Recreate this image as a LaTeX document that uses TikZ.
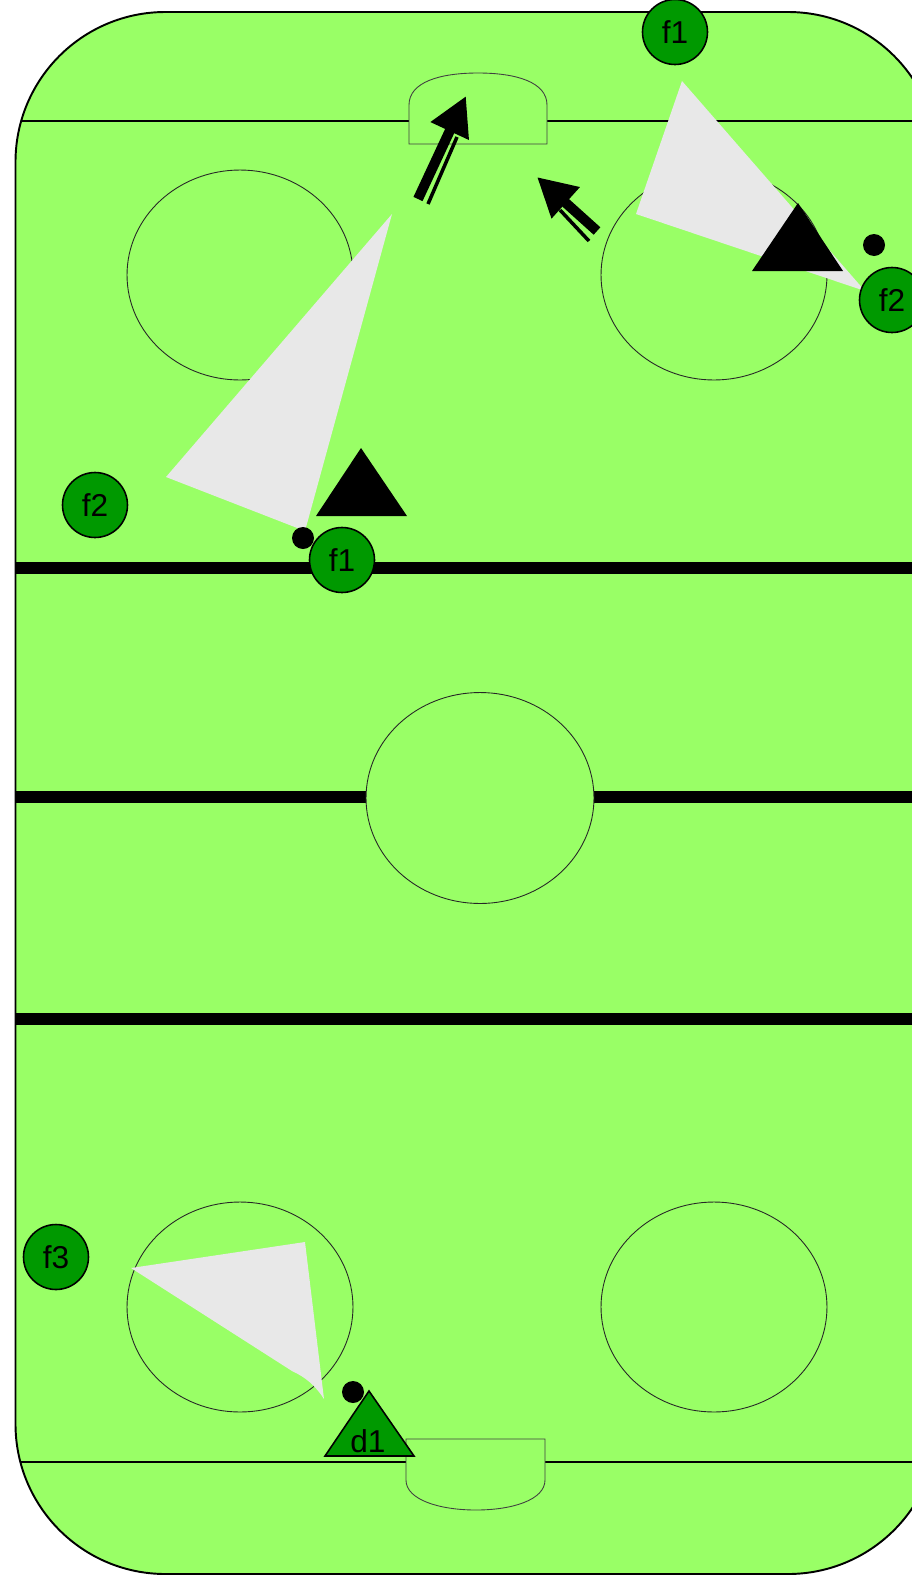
\documentclass[tikz,border=0pt]{standalone}
\usepackage{fontspec}
\setmainfont{Liberation Sans}
\usetikzlibrary{arrows.meta}

\definecolor{ice}{RGB}{153,255,102}
\definecolor{team}{RGB}{0,153,0}
\definecolor{lane}{RGB}{232,232,232}

\begin{document}
\begin{tikzpicture}[x=0.02cm, y=-0.02cm,
    skater/.style={circle, draw=black, line width=0.9pt, fill=team, minimum size=1.3cm, inner sep=0pt, font=\fontsize{18}{21}\selectfont},
    tag/.style={inner sep=0pt, font=\fontsize{18}{21}\selectfont},
    faceoff/.style={draw=black!85, line width=0.5pt, fill=ice},
    crease/.style={draw=black!75, line width=0.5pt, fill=ice},
    heavyline/.style={line width=6.8pt},
    carry/.style={line width=5.7pt, -{Triangle[length=22pt, width=22.5pt]}},
    trail/.style={line width=2pt}]
            \useasboundingbox (0,0) rectangle (912,1576);

            % Rink
            \fill[ice, rounded corners=3cm] (15.5,12) rectangle (938,1574);
            \begin{scope}
                \clip[rounded corners=3cm] (15.5,12) rectangle (938,1574);
                % Goal lines
                \draw[line width=1.1pt] (0,121) -- (950,121);
                \draw[line width=1.1pt] (0,1462) -- (950,1462);
                % Blue lines and centre line
                \draw[heavyline] (0,568) -- (950,568);
                \draw[heavyline] (0,797) -- (950,797);
                \draw[heavyline] (0,1019) -- (950,1019);
            \end{scope}
            \draw[line width=1.1pt, rounded corners=3cm] (15.5,12) rectangle (938,1574);

            % Circles
            \draw[faceoff] (480,798) ellipse [x radius=2.28cm, y radius=2.11cm];
            \draw[faceoff] (240,275) ellipse [x radius=2.26cm, y radius=2.1cm];
            \draw[faceoff] (714,275) ellipse [x radius=2.26cm, y radius=2.1cm];
            \draw[faceoff] (240,1307) ellipse [x radius=2.26cm, y radius=2.1cm];
            \draw[faceoff] (714,1307) ellipse [x radius=2.26cm, y radius=2.1cm];

            % Creases
            \draw[crease] (409,144) -- (409,105) .. controls (409,82) and (440,73) .. (478,73)
                .. controls (516,73) and (547,82) .. (547,105) -- (547,144) -- cycle;
            \draw[crease] (406,1439) -- (406,1480) .. controls (406,1500) and (440,1510) .. (476,1510)
                .. controls (512,1510) and (545,1500) .. (545,1480) -- (545,1439) -- cycle;

            % Shooting lanes
            \fill[lane] (392,214) -- (166,477) -- (305,531) -- cycle;
            \fill[lane] (682,81) -- (636,214) -- (865,291) -- cycle;
            \fill[lane] (131,1268) -- (305,1242) -- (324,1399) .. controls (315,1385) and (305,1377) .. (292,1371) -- cycle;

            % Skating arrows
            \coordinate (s1) at (418,199);
            \coordinate (t1) at (466,96);
            \coordinate (s2) at (597,231);
            \coordinate (t2) at (537,177);
            \draw[carry] (s1) -- (t1);
            \draw[trail] (428,204) -- (457,137);
            \draw[carry] (s2) -- (t2);
            \draw[trail] (589,241) -- (560,210);

            % Opponents
            \fill (316,516) -- (407,516) -- (361,448) -- cycle;
            \fill (752,271) -- (843,271) -- (798,203) -- cycle;

            % Pucks
            \fill (303,538) circle (0.22cm);
            \fill (874,245) circle (0.22cm);
            \fill (353,1392) circle (0.22cm);

            % Players
            \node[skater] (f1top) at (675,32) {f1};
            \node[skater] (f2top) at (892,300) {f2};
            \node[skater] (f1mid) at (342,560) {f1};
            \node[skater] (f2mid) at (95,505) {f2};
            \node[skater] (f3) at (56,1257) {f3};
            \draw[fill=team, line width=0.9pt] (325,1456) -- (414,1456) -- (369,1391) -- cycle;
            \node[tag, anchor=base] (d1) at (368,1452) {d1};
        \end{tikzpicture}
\end{document}
